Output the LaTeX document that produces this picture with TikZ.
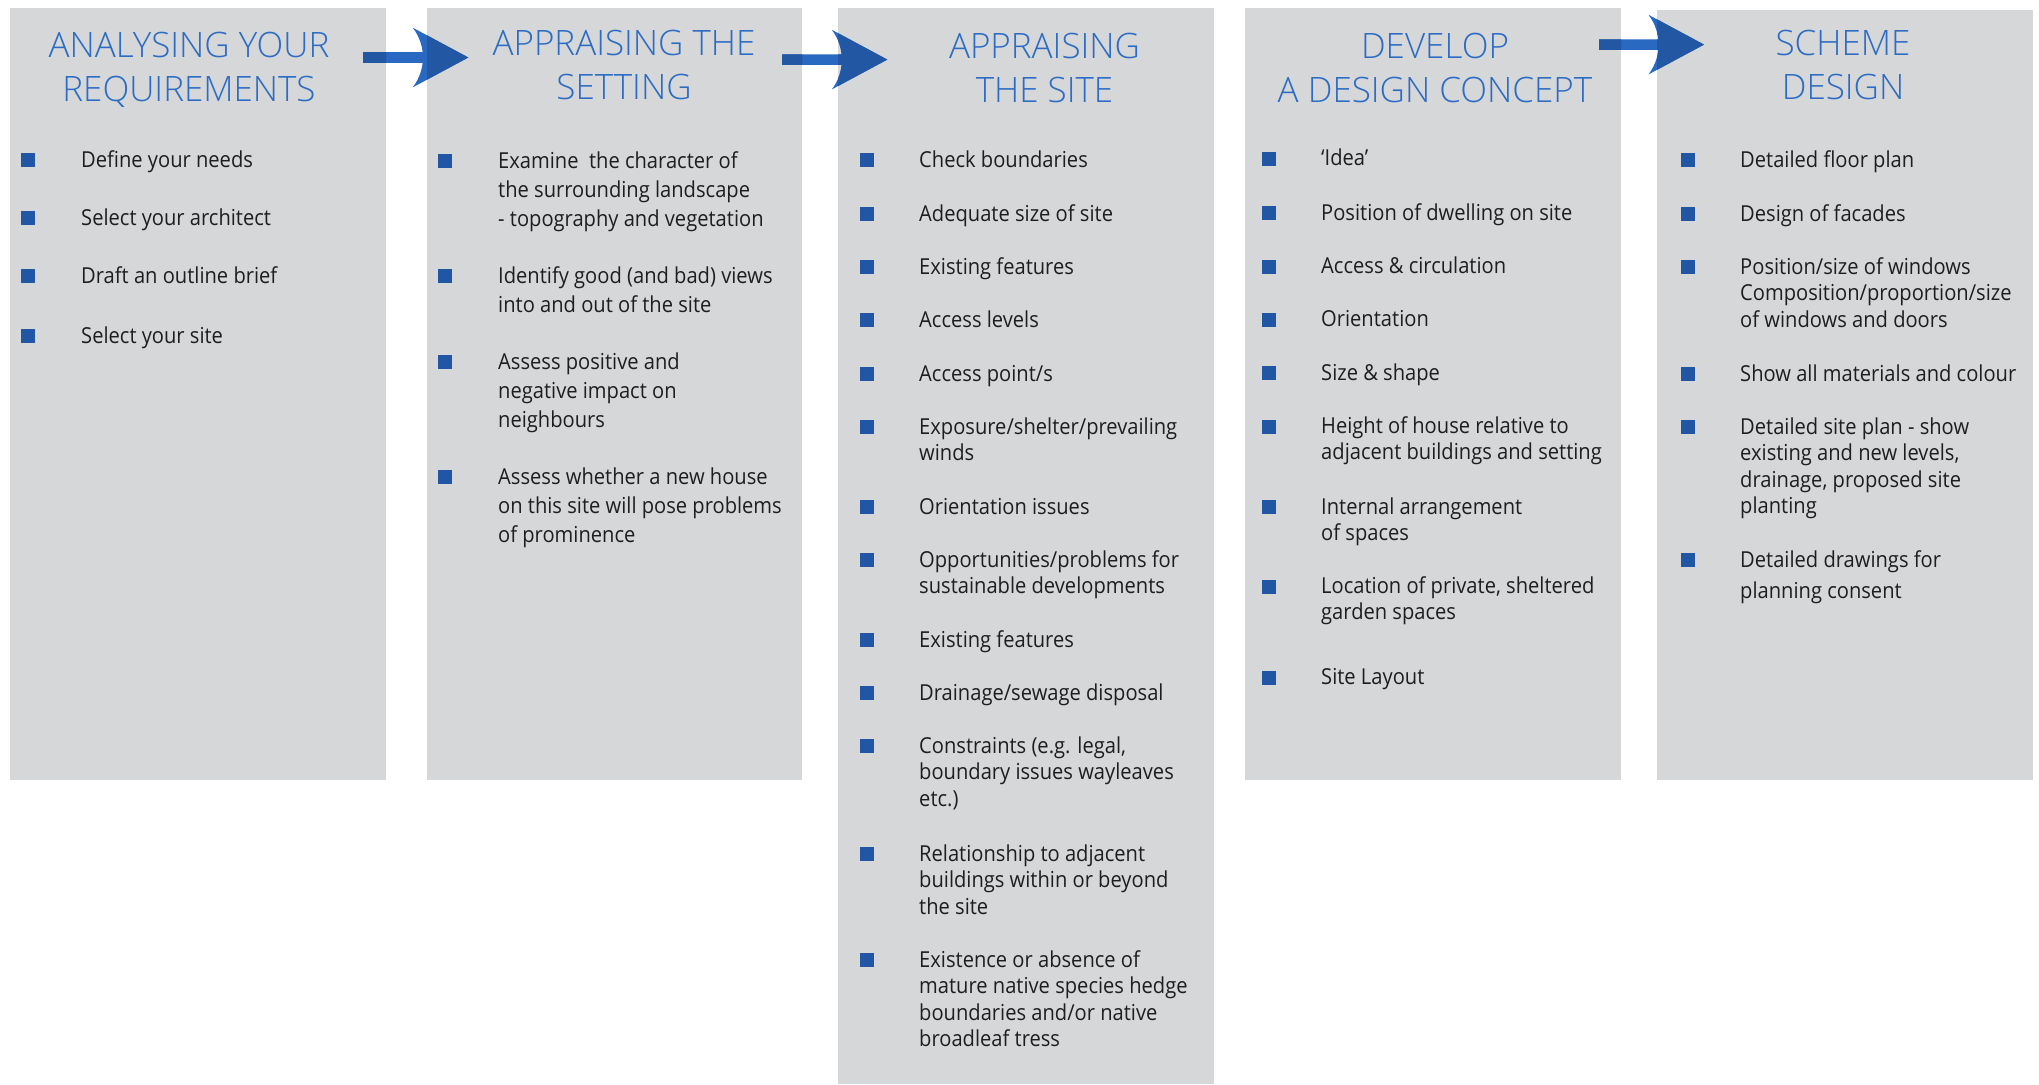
\documentclass[tikz,border=0pt]{standalone}
\usepackage{fontspec}
\setmainfont{Open Sans}[FakeStretch=0.915]
\newfontfamily\headfont{Open Sans}[UprightFont=* Light]
\usetikzlibrary{calc}

\definecolor{panelgrey}{RGB}{214,215,217}
\definecolor{headblue}{RGB}{44,108,196}
\definecolor{bulletblue}{RGB}{33,86,164}
\definecolor{arrowlight}{RGB}{42,105,194}
\definecolor{arrowdark}{RGB}{34,87,163}
\definecolor{bodyink}{RGB}{30,30,30}

\tikzset{
  panel/.style={fill=panelgrey, draw=none, inner sep=0pt, anchor=north west, minimum width=376pt},
  headtext/.style={anchor=base, inner sep=0pt, text=headblue,
    font=\headfont\fontsize{35}{44.5}\selectfont},
  itemtext/.style={anchor=base west, inner sep=0pt, text=bodyink},
  bulletsq/.style={fill=bulletblue, draw=none, minimum size=14pt, inner sep=0pt},
}

% one bulleted entry: name, bullet x, text x, first baseline, lines
\newcommand\entry[5]{%
  \node[bulletsq] (#1b) at (#2,#4-7) {};
  \node[itemtext] (#1) at (#3,#4) {\begin{tabular}[t]{@{}l@{}}#5\end{tabular}};}

% block arrow with a concave back, from a start point to a tip point
\newcommand\flowarrow[3]{%
  \fill[#3] ($(#1)+(0,-5.3)$) -- ($(#2)+(-30,-5.3)$) -- ($(#2)+(-30,5.3)$) -- ($(#1)+(0,5.3)$) -- cycle
    ($(#2)+(-55.5,-29.8)$) -- (#2) -- ($(#2)+(-55.5,29.8)$)
    .. controls ($(#2)+(-42,12)$) and ($(#2)+(-42,-12)$) .. cycle;}

\begin{document}
\begin{tikzpicture}[x=1pt, y=-1pt]
  \useasboundingbox (0,0) rectangle (2039,1084);
  \fill[white] (0,0) rectangle (2039,1084);

  % columns
  \node[panel, minimum height=772pt] (p1) at (10,8) {};
  \node[panel, minimum height=772pt, minimum width=375pt] (p2) at (427,8) {};
  \node[panel, minimum height=1076pt] (p3) at (838,8) {};
  \node[panel, minimum height=772pt] (p4) at (1245,8) {};
  \node[panel, minimum height=770pt] (p5) at (1657,10) {};

  % arrows between the stages
  \coordinate (a1s) at (363,57.5);   \coordinate (a1e) at (468.3,57.5);
  \coordinate (a2s) at (782,59.6);   \coordinate (a2e) at (887.3,59.6);
  \coordinate (a3s) at (1599,44.6);  \coordinate (a3e) at (1704,44.6);
  \flowarrow{a1s}{a1e}{arrowlight}
  \flowarrow{a2s}{a2e}{arrowlight}
  \flowarrow{a3s}{a3e}{arrowlight}
  \begin{scope}
    \clip (p1.north west) rectangle (p1.south east)
          (p2.north west) rectangle (p2.south east)
          (p3.north west) rectangle (p3.south east)
          (p4.north west) rectangle (p4.south east)
          (p5.north west) rectangle (p5.south east);
    \flowarrow{a1s}{a1e}{arrowdark}
    \flowarrow{a2s}{a2e}{arrowdark}
    \flowarrow{a3s}{a3e}{arrowdark}
  \end{scope}

  % headings
  \node[headtext] (h1) at (189,57.3) {\begin{tabular}[t]{@{}c@{}}ANALYSING YOUR\\REQUIREMENTS\end{tabular}};
  \node[headtext] (h2) at (624,55) {\begin{tabular}[t]{@{}c@{}}APPRAISING THE\\SETTING\end{tabular}};
  \node[headtext] (h3) at (1044.5,58) {\begin{tabular}[t]{@{}c@{}}APPRAISING\\THE SITE\end{tabular}};
  \node[headtext] (h4) at (1435,58) {\begin{tabular}[t]{@{}c@{}}DEVELOP\\A DESIGN CONCEPT\end{tabular}};
  \node[headtext] (h5) at (1843,55) {\begin{tabular}[t]{@{}c@{}}SCHEME\\DESIGN\end{tabular}};

  % stage 1
  \begin{scope}[every node/.append style={font=\fontsize{22}{26.5}\selectfont}]
    \entry{r1}{28}{81}{167}{Define your needs}
    \entry{r2}{28}{81}{225}{Select your architect}
    \entry{r3}{28}{81}{283}{Draft an outline brief}
    \entry{r4}{28}{81}{343}{Select your site}
  \end{scope}

  % stage 2
  \begin{scope}[every node/.append style={font=\fontsize{22}{29}\selectfont}]
    \entry{s1}{445}{498}{168}{Examine~ the character of\\the surrounding landscape\\- topography and vegetation}
    \entry{s2}{445}{498}{283}{Identify good (and bad) views\\into and out of the site}
    \entry{s3}{445}{498}{369}{Assess positive and\\negative impact on\\neighbours}
    \entry{s4}{445}{498}{484}{Assess whether a new house\\on this site will pose problems\\of prominence}
  \end{scope}

  % stage 3
  \begin{scope}[every node/.append style={font=\fontsize{22}{26.5}\selectfont}]
    \entry{t1}{867}{919}{167}{Check boundaries}
    \entry{t2}{867}{919}{221}{Adequate size of site}
    \entry{t3}{867}{919}{274}{Existing features}
    \entry{t4}{867}{919}{327}{Access levels}
    \entry{t5}{867}{919}{381}{Access point/s}
    \entry{t6}{867}{919}{434}{Exposure/shelter/prevailing\\winds}
    \entry{t7}{867}{919}{514}{Orientation issues}
    \entry{t8}{867}{919}{567}{Opportunities/problems for\\sustainable developments}
    \entry{t9}{867}{919}{647}{Existing features}
    \entry{t10}{867}{919}{700}{Drainage/sewage disposal}
    \entry{t11}{867}{919}{753}{Constraints (e.g. legal,\\boundary issues wayleaves\\etc.)}
    \entry{t12}{867}{919}{861}{Relationship to adjacent\\buildings within or beyond\\the site}
    \entry{t13}{867}{919}{967}{Existence or absence of\\mature native species hedge\\boundaries and/or native\\broadleaf tress}
  \end{scope}

  % stage 4
  \begin{scope}[every node/.append style={font=\fontsize{22}{26}\selectfont}]
    \entry{u1}{1269}{1321}{165.6}{‘Idea’}
    \entry{u2}{1269}{1321}{220.3}{Position of dwelling on site}
    \entry{u3}{1269}{1321}{273.6}{Access \& circulation}
    \entry{u4}{1269}{1321}{326.9}{Orientation}
    \entry{u5}{1269}{1321}{380.2}{Size \& shape}
    \entry{u6}{1269}{1321}{433.5}{Height of house relative to\\adjacent buildings and setting}
    \entry{u7}{1269}{1321}{514.2}{Internal arrangement\\of spaces}
    \entry{u8}{1269}{1321}{593.5}{Location of private, sheltered\\garden spaces}
    \entry{u9}{1269}{1321}{684.5}{Site Layout}
  \end{scope}

  % stage 5
  \begin{scope}[every node/.append style={font=\fontsize{22}{26.5}\selectfont}]
    \entry{v1}{1688}{1740}{167}{Detailed floor plan}
    \entry{v2}{1688}{1740}{221}{Design of facades}
    \entry{v3}{1688}{1740}{274}{Position/size of windows\\Composition/proportion/size\\of windows and doors}
    \entry{v4}{1688}{1740}{381}{Show all materials and colour}
    \entry{v5}{1688}{1740}{434}{Detailed site plan - show\\existing and new levels,\\drainage, proposed site\\planting}
    \entry{v6}{1688}{1740}{567}{Detailed drawings for\\[5pt]planning consent}
  \end{scope}
\end{tikzpicture}
\end{document}
